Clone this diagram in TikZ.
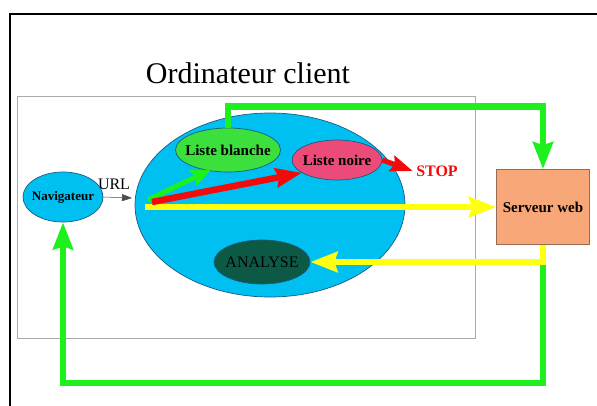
\documentclass[tikz,border=0pt]{standalone}
\usepackage{fontspec}
\setmainfont{Liberation Serif}
\usetikzlibrary{arrows.meta,positioning,shapes.geometric,calc}
\definecolor{clientblue}{HTML}{00C0F2}
\definecolor{clientborder}{HTML}{1A5A80}
\definecolor{whitelistbg}{HTML}{3CE03C}
\definecolor{blacklistbg}{HTML}{EC4A78}
\definecolor{analysebg}{HTML}{0C5A46}
\definecolor{serverbg}{HTML}{F8A878}
\definecolor{serverborder}{HTML}{9A6A50}
\definecolor{flowgreen}{HTML}{1EF01E}
\definecolor{flowyellow}{HTML}{FFFF10}
\definecolor{flowred}{HTML}{F40A0A}
\definecolor{framegray}{HTML}{ABABAB}

\begin{document}
\begin{tikzpicture}[
    x=1pt, y=-1pt,
    blob/.style={
        ellipse, draw=clientborder, line width=0.7pt, inner sep=-8pt,
        font=\fontsize{15pt}{17pt}\selectfont\bfseries, text=black
    },
    flow/.style={
        -{Stealth[length=27pt, width=20pt, inset=3pt]}, line width=6.5pt
    },
    thinarrow/.style={
        -{Triangle[length=10pt, width=7pt]}, line width=0.5pt, draw=black!70
    }
]

% ==================== FRAME ====================
\useasboundingbox (0,0) rectangle (597,405);
\draw[line width=2pt] (10,420) -- (10,14) -- (610,14);
\node[font=\fontsize{30pt}{34pt}\selectfont] (title) at (248,73) {Ordinateur client};
\node[rectangle, draw=framegray, line width=1pt, minimum width=458pt, minimum height=242pt, inner sep=0pt] (pc) at (246,217) {};

% ==================== CLIENT ====================
\node[blob, fill=clientblue, minimum width=270pt, minimum height=184pt] (client) at (270,205) {};
\node[blob, fill=clientblue, minimum width=80pt, minimum height=50pt, font=\fontsize{13pt}{15pt}\selectfont\bfseries] (nav) at (63,197) {Navigateur};
\node[blob, fill=whitelistbg, minimum width=105pt, minimum height=44pt] (white) at (228,150) {Liste blanche};
\node[blob, fill=blacklistbg, minimum width=90pt, minimum height=40pt] (black) at (337,160) {Liste noire};
\node[blob, fill=analysebg, minimum width=96pt, minimum height=44pt, font=\fontsize{16pt}{18pt}\selectfont] (analyse) at (262,262) {ANALYSE};
\node[font=\fontsize{16pt}{18pt}\selectfont\bfseries, text=flowred] (stop) at (437,171) {STOP};
\node[font=\fontsize{16pt}{18pt}\selectfont] (url) at (114,184) {URL};

% ==================== SERVER ====================
\node[rectangle, fill=serverbg, draw=serverborder, line width=0.7pt, minimum width=93pt, minimum height=75pt, font=\fontsize{15pt}{17pt}\selectfont\bfseries] (server) at (543,207) {Serveur web};

% ==================== ARROWS ====================
\coordinate (urlend) at (132,198);
\coordinate (gstart) at (148,200);
\coordinate (rstart) at (152,202);
\coordinate (ystart) at (145,207);

\draw[thinarrow] (nav.east) -- (urlend);
\draw[flow, draw=flowgreen] (server.south) -- ++(0,138) -| (nav.south);
\draw[flow, draw=flowyellow] (server.south) |- (analyse.east);
\draw[flow, draw=flowyellow] (ystart) -- (server.west);
\draw[flow, draw=flowgreen, line width=5pt, -{Stealth[length=20pt, width=17pt, inset=3pt]}] (gstart) -- ([shift={(-2pt,2pt)}]white.235);
\draw[flow, draw=flowred, -{Stealth[length=26pt, width=19pt, inset=3pt]}] (rstart) -- (black.200);
\draw[flow, draw=flowred, line width=5pt, -{Stealth[length=22pt, width=16pt, inset=3pt]}] (black.east) -- (stop.west);
\draw[flow, draw=flowgreen] (white.north) -- ++(0,-21) -| (server.north);

\end{tikzpicture}
\end{document}
